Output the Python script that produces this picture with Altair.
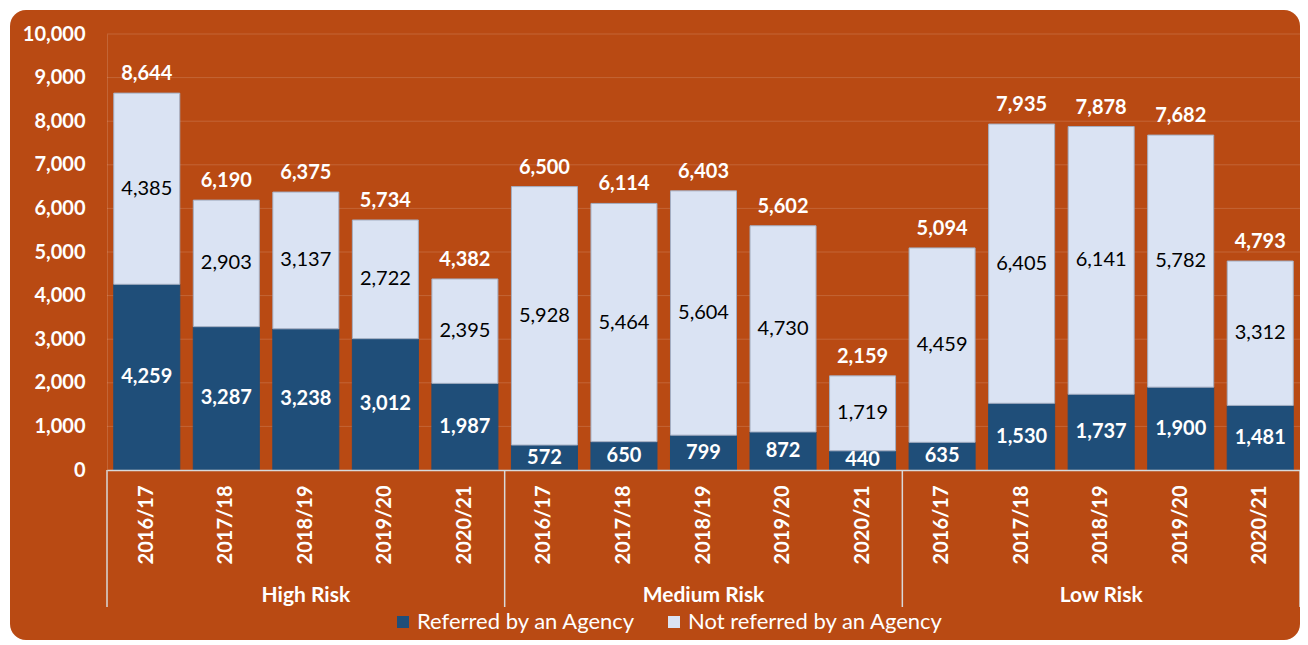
import altair as alt
import pandas as pd

groups = ["High Risk", "Medium Risk", "Low Risk"]
years = ["2016/17", "2017/18", "2018/19", "2019/20", "2020/21"]
referred = [4259, 3287, 3238, 3012, 1987, 572, 650, 799, 872, 440, 635, 1530, 1737, 1900, 1481]
not_referred = [4385, 2903, 3137, 2722, 2395, 5928, 5464, 5604, 4730, 1719, 4459, 6405, 6141, 5782, 3312]
totals = [8644, 6190, 6375, 5734, 4382, 6500, 6114, 6403, 5602, 2159, 5094, 7935, 7878, 7682, 4793]
series_names = ["Referred by an Agency", "Not referred by an Agency"]
y_ticks = list(range(0, 10001, 1000))

ORANGE = "#B94A13"
DARK = "#1F4E79"
LIGHT = "#DAE3F3"
W, H = 1193, 436
FS = 20

keys, rows, trows = [], [], []
i = 0
for g in groups:
    for yr in years:
        k = f"{g}|{yr}"
        keys.append(k)
        r, n = referred[i], not_referred[i]
        rows.append(dict(key=k, series=series_names[0], value=r, order=0, mid=r / 2))
        rows.append(dict(key=k, series=series_names[1], value=n, order=1, mid=r + n / 2))
        trows.append(dict(key=k, total=totals[i]))
        i += 1
long = pd.DataFrame(rows)
tdf = pd.DataFrame(trows)
grid_df = pd.DataFrame({"tick": y_ticks[1:]})

n_bars = len(keys)
bounds = pd.DataFrame({"pos": [j * len(years) for j in range(len(groups) + 1)]})
gdf = pd.DataFrame({"group": groups,
                    "pos": [j * len(years) + len(years) / 2 for j in range(len(groups))]})

x_enc = alt.X(
    "key:N", sort=keys,
    scale=alt.Scale(paddingInner=0.17, paddingOuter=0.085),
    axis=alt.Axis(title=None, labelExpr="split(datum.value,'|')[1]", labelAngle=-90,
                  labelAlign="right", labelBaseline="middle", labelPadding=15,
                  ticks=False, domainColor="#D9D9D9", domainWidth=1.5,
                  labelColor="white", labelFontSize=FS, labelFontWeight="bold",
                  grid=False, zindex=1),
)
y_axis = alt.Axis(values=y_ticks, labelExpr="format(datum.value, ',')", title=None,
                  ticks=False, labelPadding=22,
                  labelColor="white", labelFontSize=FS, labelFontWeight="bold",
                  grid=False, domainColor="white", domainOpacity=0.15, zindex=1)
y_scale = alt.Scale(domain=[0, 10000], nice=False)

gridlines = alt.Chart(grid_df).mark_rule(color="white", opacity=0.15, strokeWidth=1).encode(
    y=alt.Y("tick:Q", scale=y_scale, axis=y_axis))

bars = alt.Chart(long).mark_bar(strokeWidth=1).encode(
    x=x_enc,
    y=alt.Y("value:Q", stack="zero", scale=y_scale, axis=y_axis),
    color=alt.Color("series:N", scale=alt.Scale(domain=series_names, range=[DARK, LIGHT]),
                    legend=alt.Legend(orient="none", legendX=285, legendY=577,
                                      direction="horizontal", title=None,
                                      symbolType="square", symbolSize=144,
                                      symbolStrokeWidth=0, labelFontSize=22,
                                      labelColor="white", columnPadding=27,
                                      labelOffset=3, padding=0, labelLimit=400)),
    order=alt.Order("order:Q"),
    stroke=alt.condition(alt.datum.series == series_names[1], alt.value("#A3AEC2"), alt.value(DARK)),
)

inner_ref = alt.Chart(long).transform_filter(alt.datum.order == 0).mark_text(
    fontSize=FS, fontWeight="bold", color="white", baseline="middle").encode(
    x=x_enc, y=alt.Y("mid:Q", scale=y_scale, axis=y_axis),
    text=alt.Text("value:Q", format=","))

inner_not = alt.Chart(long).transform_filter(alt.datum.order == 1).mark_text(
    fontSize=FS, color="black", baseline="middle").encode(
    x=x_enc, y=alt.Y("mid:Q", scale=y_scale, axis=y_axis),
    text=alt.Text("value:Q", format=","))

tot = alt.Chart(tdf).mark_text(fontSize=FS, fontWeight="bold", color="white",
                               baseline="middle", dy=-19).encode(
    x=x_enc, y=alt.Y("total:Q", scale=y_scale, axis=y_axis),
    text=alt.Text("total:Q", format=","))

main = alt.layer(gridlines, bars, inner_ref, inner_not, tot)

pos_scale = alt.Scale(domain=[0, n_bars], nice=False, zero=True)
rules = alt.Chart(bounds).mark_rule(color="#D9D9D9", strokeWidth=1.5).encode(
    x=alt.X("pos:Q", scale=pos_scale, axis=None),
    y=alt.value(H), y2=alt.value(H + 137))
gtext = alt.Chart(gdf).mark_text(color="white", fontWeight="bold", fontSize=21,
                                 baseline="middle").encode(
    x=alt.X("pos:Q", scale=pos_scale, axis=None),
    y=alt.value(562), text="group:N")
deco = alt.layer(rules, gtext)

bg = alt.Chart(pd.DataFrame({"a": [0]})).mark_rect(color=ORANGE, cornerRadius=16).encode(
    x=alt.value(-97), x2=alt.value(W), y=alt.value(-24), y2=alt.value(606))

chart = alt.layer(bg, main, deco).resolve_scale(x="independent").properties(
    width=W, height=H,
    padding={"left": 99, "top": 26, "right": 0, "bottom": 170},
    autosize=alt.AutoSizeParams(type="none"),
    background="white",
).configure_view(strokeWidth=0).configure(font="Lato")

chart.save("out.html", embed_options={"renderer": "svg", "actions": False})
